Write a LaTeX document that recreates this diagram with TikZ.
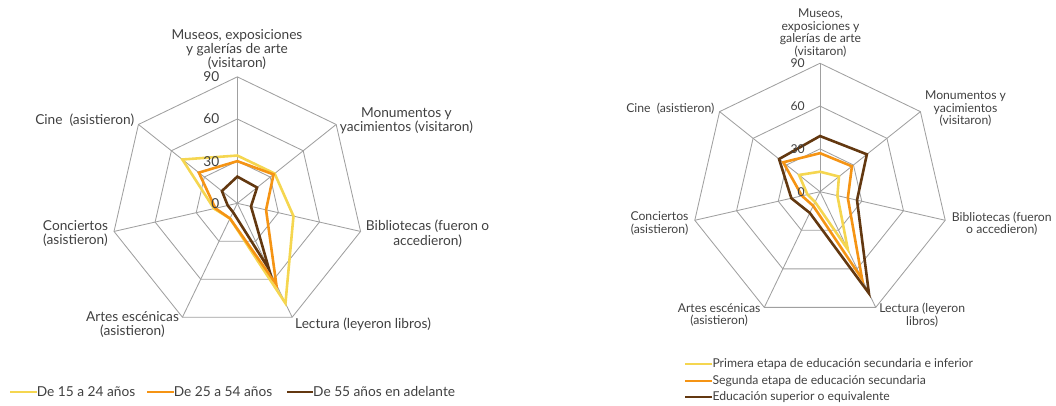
\documentclass[tikz,border=0pt]{standalone}
\usepackage{fontspec}
\setmainfont{Lato}
\usetikzlibrary{positioning}

\definecolor{txtgray}{RGB}{64,64,64}
\definecolor{gridgray}{RGB}{160,160,160}
\definecolor{cyellow}{RGB}{245,214,80}
\definecolor{corange}{RGB}{245,148,20}
\definecolor{cbrown}{RGB}{99,56,16}

\begin{document}
\begin{tikzpicture}[
        x=1pt, y=1pt,
        radargrid/.style={draw=gridgray, line width=0.85pt},
        serie/.style={line width=2.6pt},
        lbl/.style={text=txtgray, font=\fontsize{13.7}{14.1}\selectfont, align=center, inner sep=0pt},
        rlbl/.style={text=txtgray, font=\fontsize{12.2}{12.6}\selectfont, align=center, inner sep=0pt}
    ]
        \useasboundingbox (0,0) rectangle (1056,405);

        % left radar: age groups
        \begin{scope}[shift={(237.3,201.7)}, scale=1.405]
            \foreach \r in {30,60,90}
                \draw[radargrid] (90:\r) \foreach \k in {1,...,6} { -- ({90-\k*360/7}:\r) } -- cycle;
            \foreach \k in {0,...,6}
                \draw[radargrid] (0,0) -- ({90-\k*360/7}:90);
            \draw[serie, cyellow] (90:34) \foreach \v [count=\k] in {34,41,79,12,17,50} { -- ({90-\k*360/7}:\v) } -- cycle;
            \draw[serie, corange] (90:30) \foreach \v [count=\k] in {33,21,64,12,16,35} { -- ({90-\k*360/7}:\v) } -- cycle;
            \draw[serie, cbrown] (90:19) \foreach \v [count=\k] in {18,10,52,7,7,14} { -- ({90-\k*360/7}:\v) } -- cycle;
        \end{scope}

        \foreach \r in {0,30,60,90}
            \node[lbl, anchor=east] (ltick\r) at (219.5,{201.7+1.405*\r}) {\r};

        \node[lbl] (lmus) at (237,355.4) {Museos, exposiciones\\y galerías de arte\\(visitaron)};
        \node[lbl] (lmon) at (406.4,284.4) {Monumentos y\\yacimientos (visitaron)};
        \node[lbl] (lbib) at (427.6,171.3) {Bibliotecas (fueron o\\accedieron)};
        \node[lbl, anchor=west] (llec) at (295,80.7) {Lectura (leyeron libros)};
        \node[lbl] (lart) at (132.5,80.7) {Artes escénicas\\(asistieron)};
        \node[lbl] (lcon) at (75.5,171.3) {Conciertos\\(asistieron)};
        \node[lbl] (lcin) at (84.7,284.4) {Cine\ \ (asistieron)};

        % left legend
        \node[lbl, anchor=west] (lleg1) at (36.7,13) {De 15 a 24 años};
        \node[lbl, anchor=west] (lleg2) at (173.7,13) {De 25 a 54 años};
        \node[lbl, anchor=west] (lleg3) at (313,13) {De 55 años en adelante};
        \draw[serie, line width=2.2pt, cyellow] (lleg1.west) -- ++(-26.5,0);
        \draw[serie, line width=2.2pt, corange] (lleg2.west) -- ++(-26.5,0);
        \draw[serie, line width=2.2pt, cbrown] (lleg3.west) -- ++(-26.5,0);

        % right radar: education level
        \begin{scope}[shift={(820,213.3)}, scale=1.427]
            \foreach \r in {30,60,90}
                \draw[radargrid] (90:\r) \foreach \k in {1,...,6} { -- ({90-\k*360/7}:\r) } -- cycle;
            \foreach \k in {0,...,6}
                \draw[radargrid] (0,0) -- ({90-\k*360/7}:90);
            \draw[serie, cyellow] (90:14) \foreach \v [count=\k] in {17,12.5,45,8,9,18.8} { -- ({90-\k*360/7}:\v) } -- cycle;
            \draw[serie, corange] (90:27) \foreach \v [count=\k] in {28.6,20,68,11,13,33} { -- ({90-\k*360/7}:\v) } -- cycle;
            \draw[serie, cbrown] (90:39) \foreach \v [count=\k] in {42,26.6,79,16.5,20.6,36.7} { -- ({90-\k*360/7}:\v) } -- cycle;
        \end{scope}

        \foreach \r in {0,30,60,90}
            \node[rlbl, anchor=east] (rtick\r) at (805,{213.3+1.427*\r}) {\r};

        \node[rlbl] (rmus) at (820.5,371.9) {Museos,\\exposiciones y\\galerías de arte\\(visitaron)};
        \node[rlbl] (rmon) at (965.5,296.1) {Monumentos y\\yacimientos\\(visitaron)};
        \node[rlbl] (rbib) at (1001.8,181.4) {Bibliotecas (fueron\\o accedieron)};
        \node[rlbl] (rlec) at (922.2,90.1) {Lectura (leyeron\\libros)};
        \node[rlbl] (rart) at (719.1,90.1) {Artes escénicas\\(asistieron)};
        \node[rlbl] (rcon) at (659.5,181.4) {Conciertos\\(asistieron)};
        \node[rlbl] (rcin) at (670.3,296.1) {Cine\ \ (asistieron)};

        % right legend
        \node[rlbl, anchor=west] (rleg1) at (712.3,40.7) {Primera etapa de educación secundaria e inferior};
        \node[rlbl, anchor=west] (rleg2) at (712.3,24) {Segunda etapa de educación secundaria};
        \node[rlbl, anchor=west] (rleg3) at (712.3,8.3) {Educación superior o equivalente};
        \draw[serie, line width=2.2pt, cyellow] (rleg1.west) -- ++(-27,0);
        \draw[serie, line width=2.2pt, corange] (rleg2.west) -- ++(-27,0);
        \draw[serie, line width=2.2pt, cbrown] (rleg3.west) -- ++(-27,0);
\end{tikzpicture}
\end{document}
